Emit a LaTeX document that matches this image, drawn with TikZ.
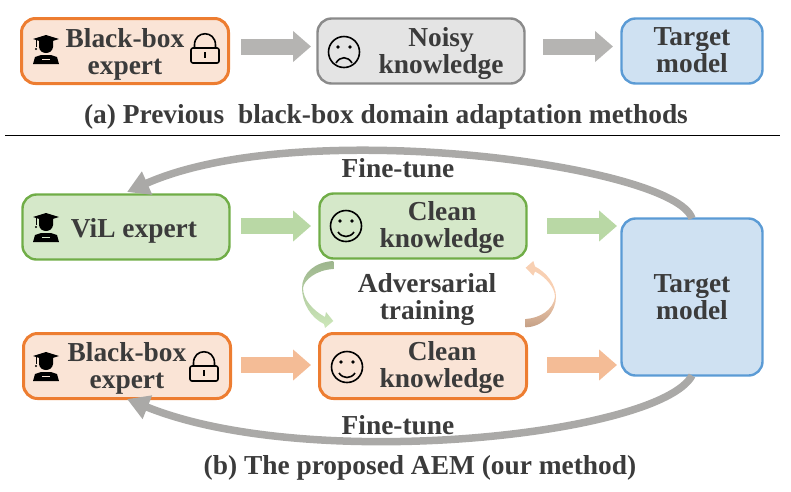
\documentclass[tikz,border=0pt]{standalone}
\usepackage{fontspec}
\setmainfont{Liberation Serif}
\usetikzlibrary{arrows.meta}
\definecolor{txt}{HTML}{3B3B3B}
\definecolor{orgL}{HTML}{ED7D31}\definecolor{orgF}{HTML}{FAE4D6}
\definecolor{grayL}{HTML}{8A8A8A}\definecolor{grayF}{HTML}{E4E4E4}
\definecolor{bluL}{HTML}{5B9BD5}\definecolor{bluF}{HTML}{CFE1F2}
\definecolor{grnL}{HTML}{70AD47}\definecolor{grnF}{HTML}{D5E8C9}
\definecolor{arrGray}{HTML}{B5B4B2}\definecolor{arrGrn}{HTML}{B9D8A5}\definecolor{arrOrg}{HTML}{F4BC96}
\definecolor{curveGray}{HTML}{AAA9A7}
\definecolor{advGd}{HTML}{9DB58D}\definecolor{advGl}{HTML}{CDE8BA}
\definecolor{advOd}{HTML}{C4A086}\definecolor{advOl}{HTML}{F8D0B3}
\tikzset{
 box/.style={draw,line width=2.4pt,rounded corners=14pt,outer sep=0pt,inner sep=0pt},
 orgbox/.style={box,line width=3pt,draw=orgL,fill=orgF,minimum width=207pt,minimum height=65pt},
 graybox/.style={box,draw=grayL,fill=grayF,minimum width=207pt,minimum height=65pt},
 grnbox/.style={box,draw=grnL,fill=grnF,minimum width=207pt,minimum height=65pt},
 blubox/.style={box,draw=bluL,fill=bluF,minimum width=141pt},
 lab/.style={text=txt,font=\fontsize{27.4}{27}\selectfont\bfseries,align=center,inner sep=0pt},
 block/.style={line width=16pt,-{Triangle[length=18pt,width=30pt]}},
 feedback/.style={line width=7.5pt,curveGray,-{Triangle[length=22pt,width=24pt]}},
 pics/student/.style={code={
   \fill[black] (-13,-11)--(0,-15)--(13,-11)--(0,-7)--cycle;
   \fill[black] (-7,-10) -- (7,-10) -- (7,-3) .. controls (6,5) and (-6,5) .. (-7,-3) -- cycle;
   \fill[black] (-13,14) -- (-11,7) -- (-5,5) -- (5,5) -- (11,7) -- (13,14) -- cycle;
   \fill[#1] (-4,8.5) rectangle (4,10);
   \draw[black,line width=1pt] (-10,-10) -- (-10,-3);
   \fill[black] (-10,-1) circle (1.2);
 }},
 pics/padlock/.style={code={
   \draw[black,line width=1.6pt,rounded corners=2pt] (-14,-1) rectangle (14,14);
   \draw[black,line width=1.6pt] (-10.5,-1) -- (-10.5,-4) .. controls (-10.5,-19) and (10.5,-19) .. (10.5,-4) -- (10.5,-1);
   \draw[black,line width=1.4pt] (0,3) -- (0,9);
 }},
 pics/smile/.style={code={
   \draw[black,line width=1.6pt] (0,0) circle (15.5);
   \fill[black] (-6,-5) circle (1.8) (6,-5) circle (1.8);
   \draw[black,line width=1.6pt] (-8,6) .. controls (-4,12) and (4,12) .. (8,6);
 }},
 pics/frown/.style={code={
   \draw[black,line width=1.6pt] (0,0) circle (15.5);
   \fill[black] (-6,-5) circle (1.8) (6,-5) circle (1.8);
   \draw[black,line width=1.6pt] (-8,11) .. controls (-4,4) and (4,4) .. (8,11);
 }},
}
\begin{document}
\begin{tikzpicture}[x=1pt,y=-1pt]
\useasboundingbox (0,0) rectangle (791,491);
% panel (a)
\node[orgbox]  (a1) at (125,51) {};
\node[graybox] (a2) at (421,51) {};
\node[blubox,minimum height=65pt] (a3) at (692,51) {};
\node[lab] (a1t) at (125,54) {Black-box\\expert};
\node[lab] (a2t) at (441,54) {Noisy\\knowledge};
\node[lab] (a3t) at (692,50) {Target\\model};
\pic at (46,50) {student=orgF};
\pic at (205,49) {padlock};
\pic at (344,52) {frown};
\coordinate (a1r) at (241,46.5); \coordinate (a2l) at (311,46.5);
\coordinate (a2r) at (543,46.5); \coordinate (a3l) at (613,46.5);
\draw[block,arrGray] (a1r) -- (a2l);
\draw[block,arrGray] (a2r) -- (a3l);
\node[lab] (capa) at (386,117) {(a) Previous\ \ black-box domain adaptation methods};
\coordinate (ruleL) at (5,135); \coordinate (ruleR) at (780,135);
\draw[black,line width=1pt] (ruleL) -- (ruleR);
% panel (b)
\node[grnbox] (b1) at (126,227) {};
\node[grnbox] (b2) at (423,226) {};
\node[blubox,minimum height=157pt] (t) at (692,297) {};
\node[orgbox] (c1) at (127,366) {};
\node[orgbox] (c2) at (423,366) {};
\node[lab] (b1t) at (134,231) {ViL expert};
\node[lab] (b2t) at (442,228) {Clean\\knowledge};
\node[lab] (tt) at (692,297) {Target\\model};
\node[lab] (adv) at (427,300) {Adversarial\\training};
\node[lab] (c1t) at (127,368) {Black-box\\expert};
\node[lab] (c2t) at (442,368) {Clean\\knowledge};
\pic at (46,228) {student=grnF};
\pic at (46,367) {student=orgF};
\pic at (204,367) {padlock};
\pic at (346,226) {smile};
\pic at (347,367) {smile};
\coordinate (b1r) at (241,226); \coordinate (b2l) at (311,226);
\coordinate (b2r) at (547,226); \coordinate (tl1) at (617,226);
\coordinate (c1r) at (241,365); \coordinate (c2l) at (311,365);
\coordinate (c2r) at (547,365); \coordinate (tl2) at (617,365);
\draw[block,arrGrn] (b1r) -- (b2l);
\draw[block,arrGrn] (b2r) -- (tl1);
\draw[block,arrOrg] (c1r) -- (c2l);
\draw[block,arrOrg] (c2r) -- (tl2);
% curved feedback
\coordinate (b1t) at (127,192);
\coordinate (c1b) at (127,399);
\draw[feedback] (t.north) .. controls (675,165) and (300,115) .. (b1t);
\draw[feedback] (t.south) .. controls (660,435) and (310,473) .. (c1b);
\node[lab] (ft1) at (398,168) {Fine-tune};
\node[lab] (ft2) at (398,425) {Fine-tune};
% adversarial arcs
\path[top color=advGd,bottom color=advGl,draw=none]
  (333.3,261) .. controls (315,262) and (302,273) .. (302,288)
  .. controls (302,303) and (311,318) .. (324,324)
  -- (325,328) -- (333.3,321) -- (326,312) -- (325,317)
  .. controls (314,311) and (303,300) .. (303,288)
  .. controls (304,280) and (316,270) .. (333.3,269) -- cycle;
\path[bottom color=advOd,top color=advOl,middle color=advOl,draw=none]
  (525.7,319) -- (525.7,327.3)
  .. controls (543,327) and (556,312) .. (556,297)
  .. controls (556,284) and (546,272) .. (535,266.5)
  -- (533.3,261) -- (525.7,267.7) -- (533.3,275.7) -- (535,271.5)
  .. controls (546,277) and (555,288) .. (555,297)
  .. controls (553,310) and (540,318) .. (525.7,319) -- cycle;
\node[lab] (capb) at (420,468) {(b) The proposed AEM (our method)};
\end{tikzpicture}
\end{document}
